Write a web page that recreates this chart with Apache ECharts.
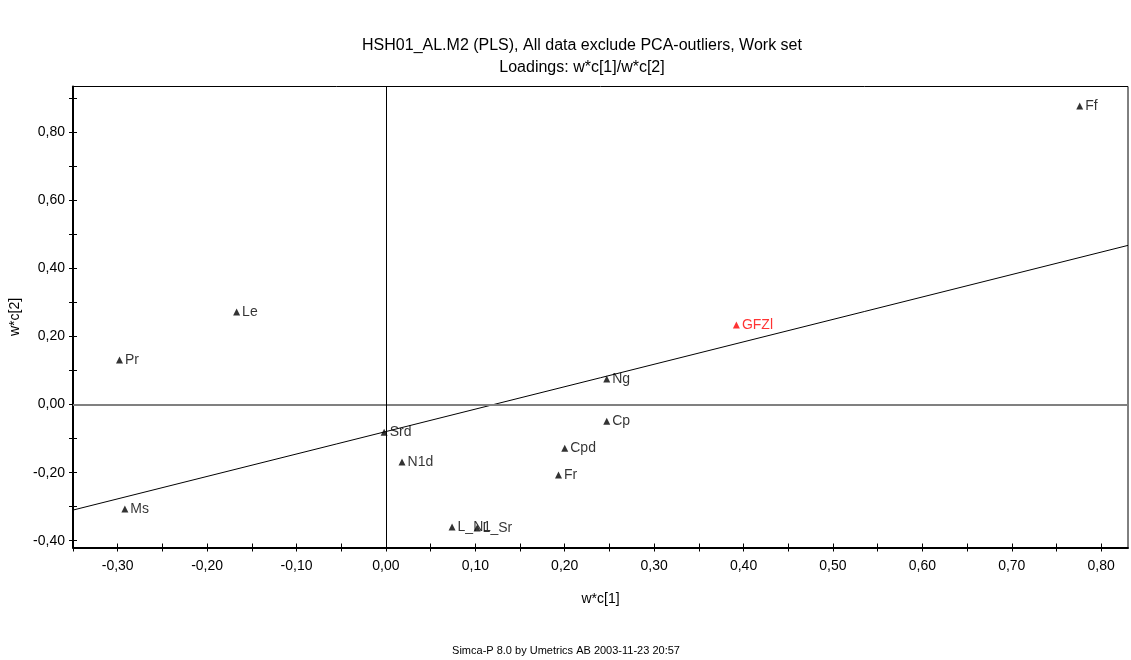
<!DOCTYPE html>
<html>
<head>
<meta charset="utf-8">
<script src="https://cdn.jsdelivr.net/npm/echarts@6/dist/echarts.min.js"></script>
<style>html,body{margin:0;padding:0;background:#fff;}#c{width:1131px;height:660px;}</style>
</head>
<body>
<div id="c"></div>
<script>
// ---- data ----
var names = ['Ff','GFZl','Ng','Cp','Cpd','Fr','Srd','N1d','L_N1','L_Sr','Le','Pr','Ms'];
var xVals = [0.776, 0.392, 0.247, 0.247, 0.200, 0.193, -0.002, 0.018, 0.074, 0.102, -0.167, -0.298, -0.292];
var yVals = [0.878, 0.234, 0.075, -0.049, -0.128, -0.207, -0.081, -0.169, -0.360, -0.363, 0.272, 0.131, -0.307];
var highlighted = ['GFZl'];
var regLine = [[-0.35, -0.310], [0.83, 0.468]];
var xTicks = [-0.35,-0.30,-0.25,-0.20,-0.15,-0.10,-0.05,0.00,0.05,0.10,0.15,0.20,0.25,0.30,0.35,0.40,0.45,0.50,0.55,0.60,0.65,0.70,0.75,0.80];
var xLabels = [-0.30,-0.20,-0.10,0.00,0.10,0.20,0.30,0.40,0.50,0.60,0.70,0.80];
var yTicks = [-0.40,-0.30,-0.20,-0.10,0.00,0.10,0.20,0.30,0.40,0.50,0.60,0.70,0.80,0.90];
var yLabels = [-0.40,-0.20,0.00,0.20,0.40,0.60,0.80];
var xRange = [-0.35, 0.83];
var yRange = [-0.42, 0.935];
var titleLines = ['HSH01_AL.M2 (PLS), All data exclude PCA-outliers, Work set', 'Loadings: w*c[1]/w*c[2]'];
var footer = 'Simca-P 8.0 by Umetrics AB 2003-11-23 20:57';
var xName = 'w*c[1]';
var yName = 'w*c[2]';

var FONT = '"Liberation Sans", Arial, sans-serif';
function fmt(v){ return v.toFixed(2).replace('.', ','); }

var pts = names.map(function(n,i){
  var red = highlighted.indexOf(n) >= 0;
  return {
    value: [xVals[i], yVals[i]], name: n,
    itemStyle: {color: red ? '#ff0000' : '#000000'},
    label: {color: red ? '#ff0000' : '#000000'}
  };
});

function makeX(inside, showLabel){
  return {
    type: 'value', min: xRange[0], max: xRange[1], position: 'bottom',
    name: showLabel ? xName : '', nameLocation: 'middle', nameGap: 45,
    nameTextStyle: {fontFamily: FONT, fontSize: 14, color: '#000'},
    axisLine: {show: showLabel, onZero: false, lineStyle: {color: '#000', width: 2}},
    axisTick: {show: true, inside: inside, length: 4, customValues: xTicks, lineStyle: {color: '#000', width: 1}},
    axisLabel: {show: showLabel, customValues: xLabels, formatter: fmt, fontFamily: FONT, fontSize: 14, color: '#000', margin: 12},
    splitLine: {show: false}
  };
}
function makeY(inside, showLabel){
  return {
    type: 'value', min: yRange[0], max: yRange[1], position: 'left',
    name: showLabel ? yName : '', nameLocation: 'middle', nameGap: 47,
    nameTextStyle: {fontFamily: FONT, fontSize: 14, color: '#000'},
    axisLine: {show: showLabel, onZero: false, lineStyle: {color: '#000', width: 2}},
    axisTick: {show: true, inside: inside, length: 4, customValues: yTicks, lineStyle: {color: '#000', width: 1}},
    axisLabel: {show: showLabel, customValues: yLabels, formatter: fmt, fontFamily: FONT, fontSize: 14, color: '#000', margin: 8},
    splitLine: {show: false}
  };
}

var chart = echarts.init(document.getElementById('c'), null, {renderer: 'canvas'});
chart.setOption({
  animation: false,
  backgroundColor: '#fff',
  grid: {left: 73, right: 3, top: 86.5, bottom: 112.5, show: true, borderColor: '#000', borderWidth: 1, backgroundColor: 'transparent'},
  xAxis: [makeX(false, true), makeX(true, false)],
  yAxis: [makeY(false, true), makeY(true, false)],
  graphic: [
    {type: 'text', x: 582, y: 46, style: {text: titleLines[0], font: '16px ' + FONT, fill: '#000', textAlign: 'center', textVerticalAlign: 'middle'}},
    {type: 'text', x: 582, y: 68, style: {text: titleLines[1], font: '16px ' + FONT, fill: '#000', textAlign: 'center', textVerticalAlign: 'middle'}},
    {type: 'text', x: 566, y: 651, style: {text: footer, font: '11px ' + FONT, fill: '#000', textAlign: 'center', textVerticalAlign: 'middle'}}
  ],
  series: [
    {
      type: 'line', data: regLine, showSymbol: false, symbol: 'none', silent: true,
      lineStyle: {color: '#000', width: 1}, z: 3,
      markLine: {
        silent: true, symbol: 'none', label: {show: false},
        data: [
          {yAxis: 0, lineStyle: {color: '#808080', width: 2, type: 'solid'}},
          {xAxis: 0, lineStyle: {color: '#000', width: 1, type: 'solid'}}
        ]
      }
    },
    {
      type: 'scatter', data: pts, symbol: 'triangle', symbolSize: 7, z: 5,
      label: {show: true, position: 'right', distance: 2, formatter: function(p){return p.name;}, fontFamily: FONT, fontSize: 14}
    }
  ]
});
</script>
</body>
</html>
